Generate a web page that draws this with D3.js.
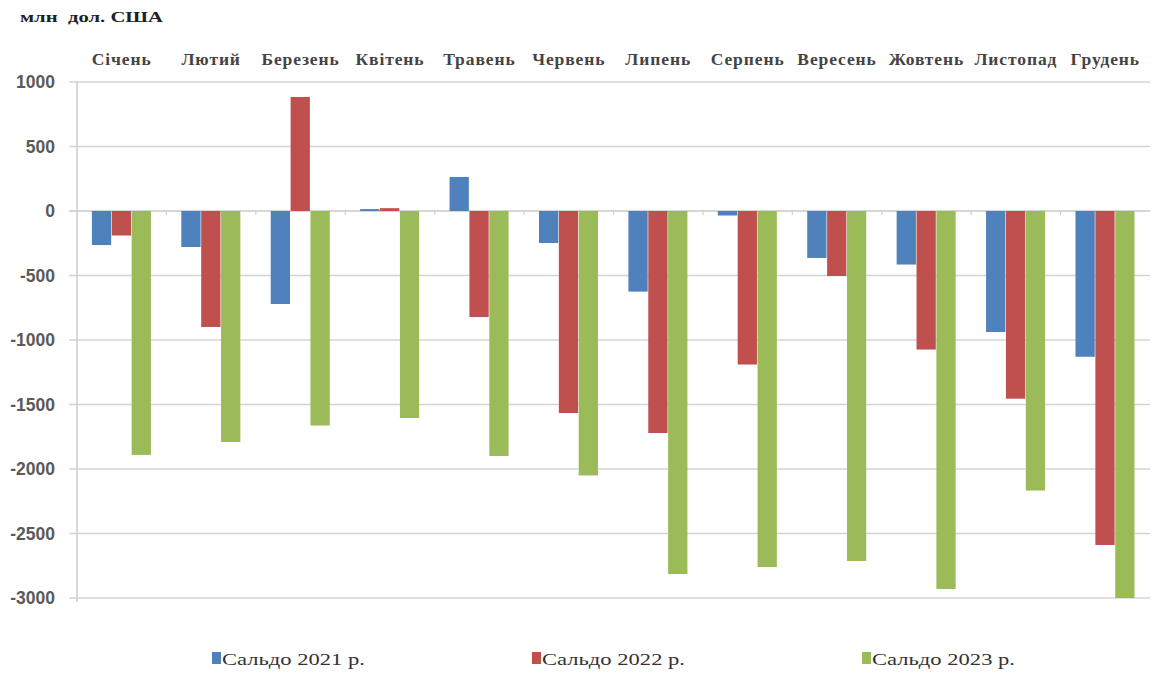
<!DOCTYPE html>
<html><head><meta charset="utf-8">
<script src="https://cdn.jsdelivr.net/npm/d3@7"></script>
<style>body{margin:0;background:#fff}</style>
</head><body>
<svg id="c" width="1153" height="673"></svg>
<script>
const months = ["Січень","Лютий","Березень","Квітень","Травень","Червень","Липень","Серпень","Вересень","Жовтень","Листопад","Грудень"];
const seriesNames = ["Сальдо 2021 р.","Сальдо 2022 р.","Сальдо 2023 р."];
const saldo2021 = [-264,-279,-721,15,264,-248,-625,-35,-364,-415,-938,-1130];
const saldo2022 = [-190,-899,884,22,-822,-1566,-1721,-1190,-504,-1074,-1455,-2589];
const saldo2023 = [-1891,-1791,-1663,-1605,-1899,-2050,-2814,-2760,-2713,-2930,-2167,-3000];
const yTicks = [1000,500,0,-500,-1000,-1500,-2000,-2500,-3000];
const colors = ["#4F81BD","#C0504D","#9BBB59"];

const data = [saldo2021, saldo2022, saldo2023];
const svg = d3.select("#c");
const m = {left:77, right:1150, top:82, bottom:598};

const x = d3.scaleBand().domain(months).range([m.left, m.right]).paddingInner(0).paddingOuter(0);
const bw = x.bandwidth()/4.5;
const y = d3.scaleLinear().domain([-3000,1000]).range([m.bottom, m.top]);

const serif = "Liberation Serif, Times New Roman, serif";

// title
svg.append("text").attr("x",20).attr("y",22).text("млн  дол. США")
  .style("white-space","pre")
  .attr("font-family",serif).attr("font-weight","bold")
  .attr("font-size",15).attr("fill","#222")
  .attr("textLength",143).attr("lengthAdjust","spacingAndGlyphs");

// gridlines
svg.append("g").selectAll("line").data(yTicks).join("line")
  .attr("x1",m.left-8).attr("x2",m.right).attr("y1",d=>y(d)).attr("y2",d=>y(d))
  .attr("stroke",d=>d===0?"#c8c8c8":"#d4d4d4").attr("stroke-width",1.6);

// y-axis line
svg.append("line").attr("x1",m.left).attr("x2",m.left).attr("y1",m.top).attr("y2",m.bottom+4)
  .attr("stroke","#cfcfcf").attr("stroke-width",1.6);

// y labels
const yAxis = d3.axisLeft(y).tickValues(yTicks).tickSize(0).tickPadding(22).tickFormat(d=>String(d));
const ga = svg.append("g").attr("transform",`translate(${m.left},0)`).call(yAxis);
ga.select(".domain").remove();
ga.selectAll("text").attr("font-family","Liberation Sans, Arial, sans-serif").attr("font-size",17.5)
  .attr("font-weight","bold").attr("fill","#5a5a5a");

// category tick marks at zero
svg.append("g").selectAll("line").data(months.slice(1)).join("line")
  .attr("x1",d=>x(d)).attr("x2",d=>x(d)).attr("y1",y(0)).attr("y2",y(0)+4)
  .attr("stroke","#d0d0d0").attr("stroke-width",1.2);

// bars
data.forEach((vals,si)=>{
  svg.append("g").selectAll("rect").data(vals).join("rect")
    .attr("x",(d,i)=>x(months[i]) + 0.75*bw + si*bw)
    .attr("width",bw-0.6)
    .attr("y",d=>y(Math.max(0,d)))
    .attr("height",d=>Math.abs(y(d)-y(0)))
    .attr("fill",colors[si]);
});

// category labels at top
const gx = d3.axisTop(x).tickSize(0).tickPadding(0);
const gxa = svg.append("g").attr("transform","translate(0,65)").call(gx);
gxa.select(".domain").remove();
gxa.selectAll("text").attr("font-family",serif).attr("font-size",17.5)
  .attr("font-weight","bold").attr("fill","#444").attr("letter-spacing","0.9");

// legend
const legX = [212,532,862];
const lg = svg.append("g").selectAll("g").data(seriesNames).join("g")
  .attr("transform",(d,i)=>`translate(${legX[i]},665)`);
lg.append("rect").attr("x",0).attr("y",-13).attr("width",9).attr("height",12).attr("fill",(d,i)=>colors[i]);
lg.append("text").attr("x",10).attr("y",0).text(d=>d)
  .attr("font-family",serif).attr("font-size",17.5).attr("fill","#333")
  .attr("textLength",143).attr("lengthAdjust","spacingAndGlyphs");
</script>
</body></html>
